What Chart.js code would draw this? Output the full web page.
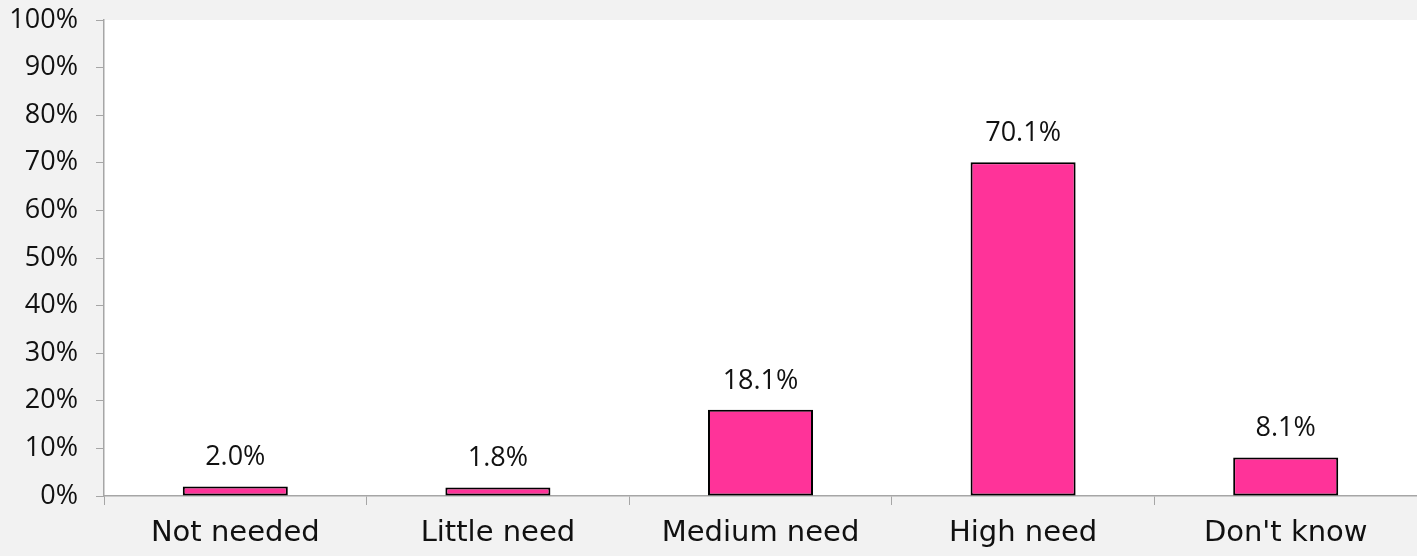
<!DOCTYPE html>
<html>
<head>
<meta charset="utf-8">
<script src="https://cdn.jsdelivr.net/npm/chart.js@4"></script>
<style>
    html, body { margin: 0; padding: 0; background: #f2f2f2; }
    #wrap { width: 1417px; height: 556px; }
</style>
</head>
<body>
<div id="wrap"><canvas id="needChart" width="1417" height="556"></canvas></div>
<script>
const categories = ['Not needed', 'Little need', 'Medium need', 'High need', "Don't know"];
const shares = [2.0, 1.8, 18.1, 70.1, 8.1];
const yTicks = [0, 10, 20, 30, 40, 50, 60, 70, 80, 90, 100];

const FONT = '"Open Sans", Lato, sans-serif';
const WIDE_FONT = '"DejaVu Sans", "Open Sans", sans-serif';
const AXIS_GRAY = '#a6a6a6';
const TEXT = '#111111';

// white plot area on the light gray page
const plotBackground = {
    id: 'plotBackground',
    beforeDraw(chart) {
        const { ctx, chartArea: a } = chart;
        ctx.save();
        ctx.fillStyle = '#ffffff';
        ctx.fillRect(a.left, a.top, a.right - a.left, a.bottom - a.top);
        ctx.restore();
    },
};

// value labels above each bar
const valueLabels = {
    id: 'valueLabels',
    afterDatasetsDraw(chart) {
        const { ctx } = chart;
        const meta = chart.getDatasetMeta(0);
        ctx.save();
        ctx.fillStyle = TEXT;
        ctx.font = `27px ${FONT}`;
        ctx.textAlign = 'center';
        ctx.textBaseline = 'middle';
        meta.data.forEach((bar, i) => {
            ctx.fillText(`${shares[i].toFixed(1)}%`, bar.x, bar.y - 29);
        });
        ctx.restore();
    },
};

new Chart(document.getElementById('needChart'), {
    type: 'bar',
    data: {
        labels: categories,
        datasets: [{
            data: shares,
            backgroundColor: '#ff3399',
            borderColor: '#000000',
            borderWidth: 2,
            borderSkipped: false,
            barPercentage: 0.4,
            categoryPercentage: 1,
        }],
    },
    options: {
        responsive: false,
        animation: false,
        layout: { padding: { top: 20, right: 0, left: 0, bottom: 0 } },
        plugins: {
            legend: { display: false },
            tooltip: { enabled: false },
        },
        scales: {
            x: {
                grid: {
                    offset: true,
                    drawOnChartArea: false,
                    drawTicks: true,
                    tickLength: 9,
                    color: AXIS_GRAY,
                },
                border: { color: AXIS_GRAY, width: 1.5 },
                ticks: { color: TEXT, font: { family: WIDE_FONT, size: 29 }, padding: 11 },
                afterFit: (scale) => {
                    scale.height = 60;
                    scale.paddingLeft = 0;
                    scale.paddingRight = 0;
                },
            },
            y: {
                min: 0,
                max: 100,
                afterBuildTicks: (scale) => { scale.ticks = yTicks.map((v) => ({ value: v })); },
                grid: {
                    drawOnChartArea: false,
                    drawTicks: true,
                    tickLength: 8,
                    color: AXIS_GRAY,
                },
                border: { color: AXIS_GRAY, width: 1.5 },
                ticks: {
                    color: TEXT,
                    font: { family: FONT, size: 27 },
                    padding: 18,
                    callback: (value) => `${value}%`,
                },
                afterFit: (scale) => {
                    scale.width = 104;
                    scale.paddingTop = 0;
                    scale.paddingBottom = 0;
                },
            },
        },
    },
    plugins: [plotBackground, valueLabels],
});
</script>
</body>
</html>
